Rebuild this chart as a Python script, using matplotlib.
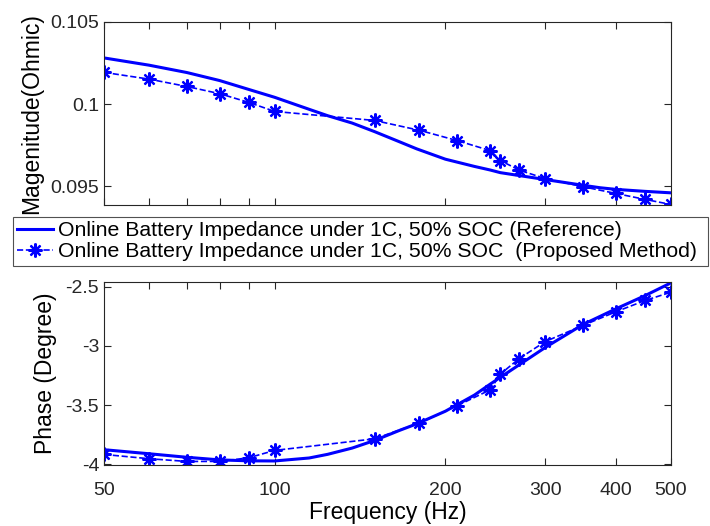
import matplotlib
matplotlib.use("Agg")
import matplotlib.pyplot as plt

plt.rcParams['font.family'] = ['Liberation Sans', 'DejaVu Sans']

# reference curve (solid)
ref_freq = [50, 60, 70, 80, 90, 100, 115, 124, 137, 150, 166, 178, 200, 225, 240, 250, 300, 350, 375, 400, 450, 500]
ref_mag = [0.10281, 0.10237, 0.10192, 0.10143, 0.10089, 0.10041, 0.09968, 0.09929, 0.09884, 0.09832,
           0.09770, 0.09727, 0.09664, 0.09620, 0.09598, 0.09582, 0.09540, 0.09505, 0.09490, 0.09480,
           0.09468, 0.09459]
ref_phase = [-3.876, -3.910, -3.940, -3.962, -3.970, -3.971, -3.946, -3.915, -3.862, -3.798,
             -3.713, -3.658, -3.551, -3.415, -3.322, -3.265, -3.013, -2.818, -2.750, -2.686,
             -2.575, -2.467]

# proposed method (dashed with markers)
est_freq = [50, 60, 70, 80, 90, 100, 150, 180, 210, 240, 250, 270, 300, 350, 400, 450, 500]
est_mag = [0.10193, 0.10152, 0.10107, 0.10063, 0.10010, 0.09955, 0.09900, 0.09840, 0.09777,
           0.09716, 0.09656, 0.09597, 0.09546, 0.09496, 0.09455, 0.09419, 0.09388]
est_phase = [-3.916, -3.952, -3.975, -3.975, -3.944, -3.882, -3.784, -3.650, -3.504,
             -3.370, -3.238, -3.106, -2.963, -2.826, -2.711, -2.616, -2.546]

xticks = [50, 60, 70, 80, 90, 100, 200, 300, 400, 500]
xticklabels = ['50', '', '', '', '', '100', '200', '300', '400', '500']

label_ref = 'Online Battery Impedance under 1C, 50% SOC (Reference)'
label_est = 'Online Battery Impedance under 1C, 50% SOC  (Proposed Method)'

fig = plt.figure(figsize=(7.1, 5.26), dpi=100)
ax1 = fig.add_axes([0.1465, 0.6103, 0.7986, 0.3479])
ax2 = fig.add_axes([0.1465, 0.116, 0.7986, 0.3479])

axc = '0.15'
asterisk = (8, 2, 0)
for ax in (ax1, ax2):
    ax.set_xscale('log')
    ax.set_xlim(50, 500)
    ax.set_xticks(xticks)
    ax.minorticks_off()
    ax.tick_params(direction='in', top=True, right=True, length=5, width=0.8,
                   colors=axc, labelsize=14, labelcolor='0.15')
    ax.tick_params(axis='x', pad=12)
    for s in ax.spines.values():
        s.set_color(axc)
        s.set_linewidth(0.8)

l1, = ax1.plot(ref_freq, ref_mag, '-', color='blue', lw=2.2, label=label_ref)
l2, = ax1.plot(est_freq, est_mag, '--', color='blue', lw=1.2, marker=asterisk,
               markersize=10, markeredgewidth=1.6, label=label_est)
ax1.set_ylim(0.09385, 0.105)
ax1.set_yticks([0.095, 0.1, 0.105])
ax1.set_yticklabels(['0.095', '0.1', '0.105'])
ax1.set_xticklabels([])
ax1.set_ylabel('Magenitude(Ohmic)', fontsize=16.5, labelpad=5)

ax2.plot(ref_freq, ref_phase, '-', color='blue', lw=2.2)
ax2.plot(est_freq, est_phase, '--', color='blue', lw=1.2, marker=asterisk,
         markersize=10, markeredgewidth=1.6)
ax2.set_ylim(-4.005, -2.46)
ax2.set_yticks([-4, -3.5, -3, -2.5])
ax2.set_yticklabels(['-4', '-3.5', '-3', '-2.5'])
ax2.set_xticklabels(xticklabels)
ax2.set_ylabel('Phase (Degree)', fontsize=16.5, labelpad=6)
ax2.set_xlabel('Frequency (Hz)', fontsize=16.5, labelpad=2)

leg = fig.legend(handles=[l1, l2], loc='upper left', mode='expand',
                 bbox_to_anchor=(13 / 710, 1 - 275 / 526, 695 / 710, 58 / 526),
                 fontsize=15.3, frameon=True, fancybox=False, handlelength=1.7,
                 handletextpad=0.2, borderpad=0.2, labelspacing=0.1, borderaxespad=0)
leg.get_frame().set_edgecolor('0.15')
leg.get_frame().set_linewidth(0.8)

fig.savefig('out.png', dpi=100)
